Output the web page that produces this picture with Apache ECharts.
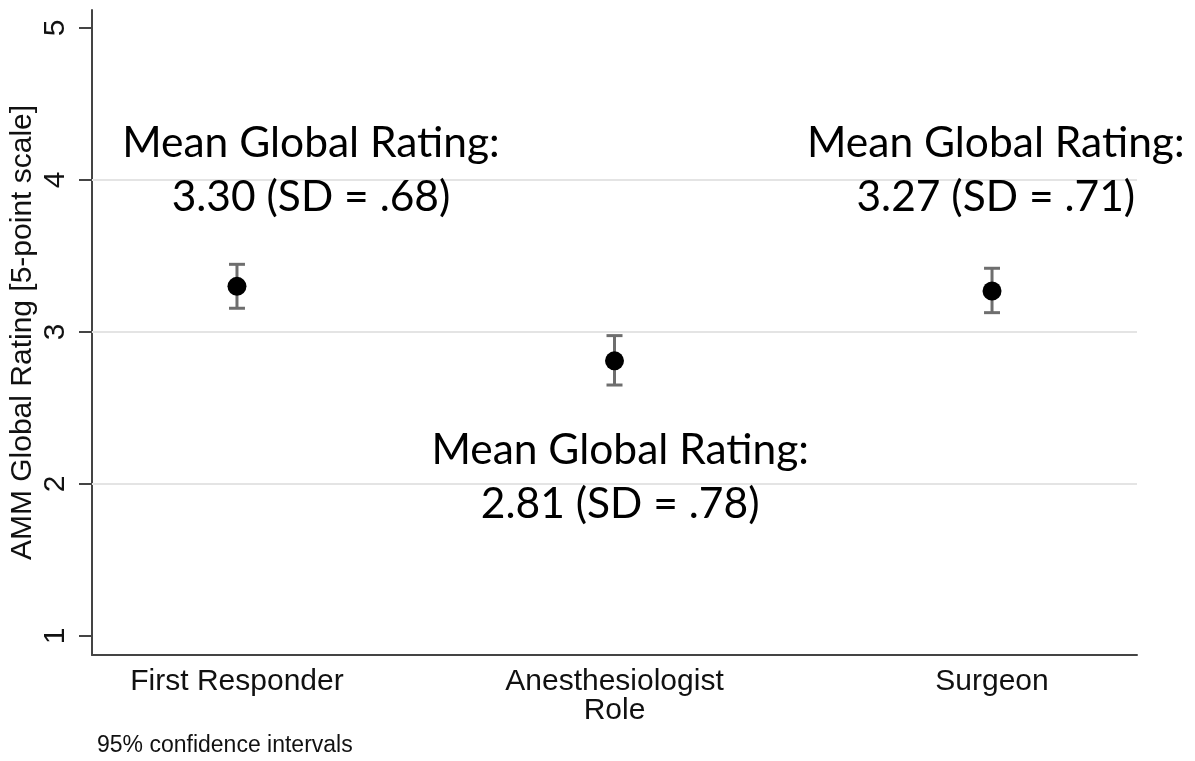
<!DOCTYPE html>
<html>
<head>
<meta charset="utf-8">
<script src="https://cdn.jsdelivr.net/npm/echarts@6/dist/echarts.min.js"></script>
<style>
  html, body { margin: 0; padding: 0; background: #fff; }
  #chart { width: 1195px; height: 761px; }
</style>
</head>
<body>
<div id="chart"></div>
<script>
// Roles on the x axis (positions 1, 2, 3)
const categories = ['First Responder', 'Anesthesiologist', 'Surgeon'];
// Mean global rating per role and its 95% confidence interval
const means = [3.30, 2.81, 3.27];
const ciLow = [3.156, 2.651, 3.127];
const ciHigh = [3.445, 2.976, 3.419];
// Standard deviations quoted in the annotations
const sds = [0.68, 0.78, 0.71];
// Annotation anchors in data units: [x, y]
const noteAnchors = [[1.196, 4.066], [2.015, 2.046], [3.01, 4.066]];
// Y axis ticks and interior gridlines
const yTicks = [1, 2, 3, 4, 5];
const yGrid = [2, 3, 4];

const labelFont = '"Liberation Sans", Arial, sans-serif';
const noteFont = 'Lato, "Open Sans", sans-serif';

function sdText(v) {
  return v.toFixed(2).replace(/^0/, '');
}

const xs = categories.map((_, i) => i + 1);

const chart = echarts.init(document.getElementById('chart'), null, { renderer: 'canvas' });

chart.setOption({
  animation: false,
  backgroundColor: '#ffffff',
  grid: { left: 92, right: 58, top: 10, bottom: 106, containLabel: false, outerBoundsMode: 'none' },
  xAxis: {
    type: 'value',
    min: 0.616,
    max: 3.384,
    name: 'Role',
    nameLocation: 'middle',
    nameGap: 41,
    nameMoveOverlap: false,
    nameTextStyle: { fontFamily: labelFont, fontSize: 30, color: '#111' },
    axisLine: { show: true, onZero: false, lineStyle: { color: '#444', width: 2 } },
    axisTick: { show: false },
    splitLine: { show: false },
    axisLabel: {
      customValues: xs,
      margin: 12,
      fontFamily: labelFont,
      fontSize: 30,
      color: '#111',
      formatter: v => categories[Math.round(v) - 1] || ''
    }
  },
  yAxis: {
    type: 'value',
    min: 0.875,
    max: 5.118,
    name: 'AMM Global Rating [5-point scale]',
    nameLocation: 'middle',
    nameGap: 54,
    nameMoveOverlap: false,
    nameRotate: 90,
    nameTextStyle: { fontFamily: labelFont, fontSize: 30, color: '#111' },
    axisLine: { show: true, onZero: false, lineStyle: { color: '#444', width: 2 } },
    axisTick: { show: true, customValues: yTicks, length: 13, lineStyle: { color: '#444', width: 2 } },
    splitLine: { show: false },
    axisLabel: {
      customValues: yTicks,
      rotate: 90,
      margin: 21,
      fontFamily: labelFont,
      fontSize: 30,
      color: '#111'
    }
  },
  graphic: [{
    type: 'text',
    left: 97,
    top: 734,
    style: {
      text: '95% confidence intervals',
      font: '23px "Liberation Sans", Arial, sans-serif',
      fill: '#111'
    }
  }],
  series: [
    {
      // interior gridlines
      type: 'line',
      data: [],
      z: 1,
      silent: true,
      markLine: {
        silent: true,
        symbol: 'none',
        label: { show: false },
        lineStyle: { color: '#e4e4e4', width: 2, type: 'solid' },
        data: yGrid.map(v => ({ yAxis: v }))
      }
    },
    {
      // 95% confidence interval whiskers
      type: 'custom',
      z: 3,
      data: xs.map((x, i) => [x, ciLow[i], ciHigh[i]]),
      renderItem: function (params, api) {
        const lo = api.coord([api.value(0), api.value(1)]);
        const hi = api.coord([api.value(0), api.value(2)]);
        const cap = 8;
        const style = { stroke: '#6e6e6e', lineWidth: 3 };
        return {
          type: 'group',
          children: [
            { type: 'line', shape: { x1: lo[0], y1: lo[1], x2: hi[0], y2: hi[1] }, style: style },
            { type: 'line', shape: { x1: lo[0] - cap, y1: lo[1], x2: lo[0] + cap, y2: lo[1] }, style: style },
            { type: 'line', shape: { x1: hi[0] - cap, y1: hi[1], x2: hi[0] + cap, y2: hi[1] }, style: style }
          ]
        };
      }
    },
    {
      // group means
      type: 'scatter',
      z: 4,
      symbol: 'circle',
      symbolSize: 19,
      itemStyle: { color: '#000', opacity: 1 },
      data: xs.map((x, i) => [x, means[i]])
    },
    {
      // mean / SD annotations
      type: 'scatter',
      z: 5,
      symbolSize: 0,
      silent: true,
      itemStyle: { opacity: 1 },
      data: noteAnchors.map((p, i) => ({ value: p, idx: i })),
      label: {
        show: true,
        position: 'inside',
        align: 'center',
        verticalAlign: 'middle',
        fontFamily: noteFont,
        fontSize: 42.5,
        lineHeight: 54,
        color: '#000',
        opacity: 1,
        formatter: function (p) {
          const i = p.dataIndex;
          return 'Mean Global Rating:\n' + means[i].toFixed(2) + ' (SD = ' + sdText(sds[i]) + ')';
        }
      }
    }
  ]
});
</script>
</body>
</html>
